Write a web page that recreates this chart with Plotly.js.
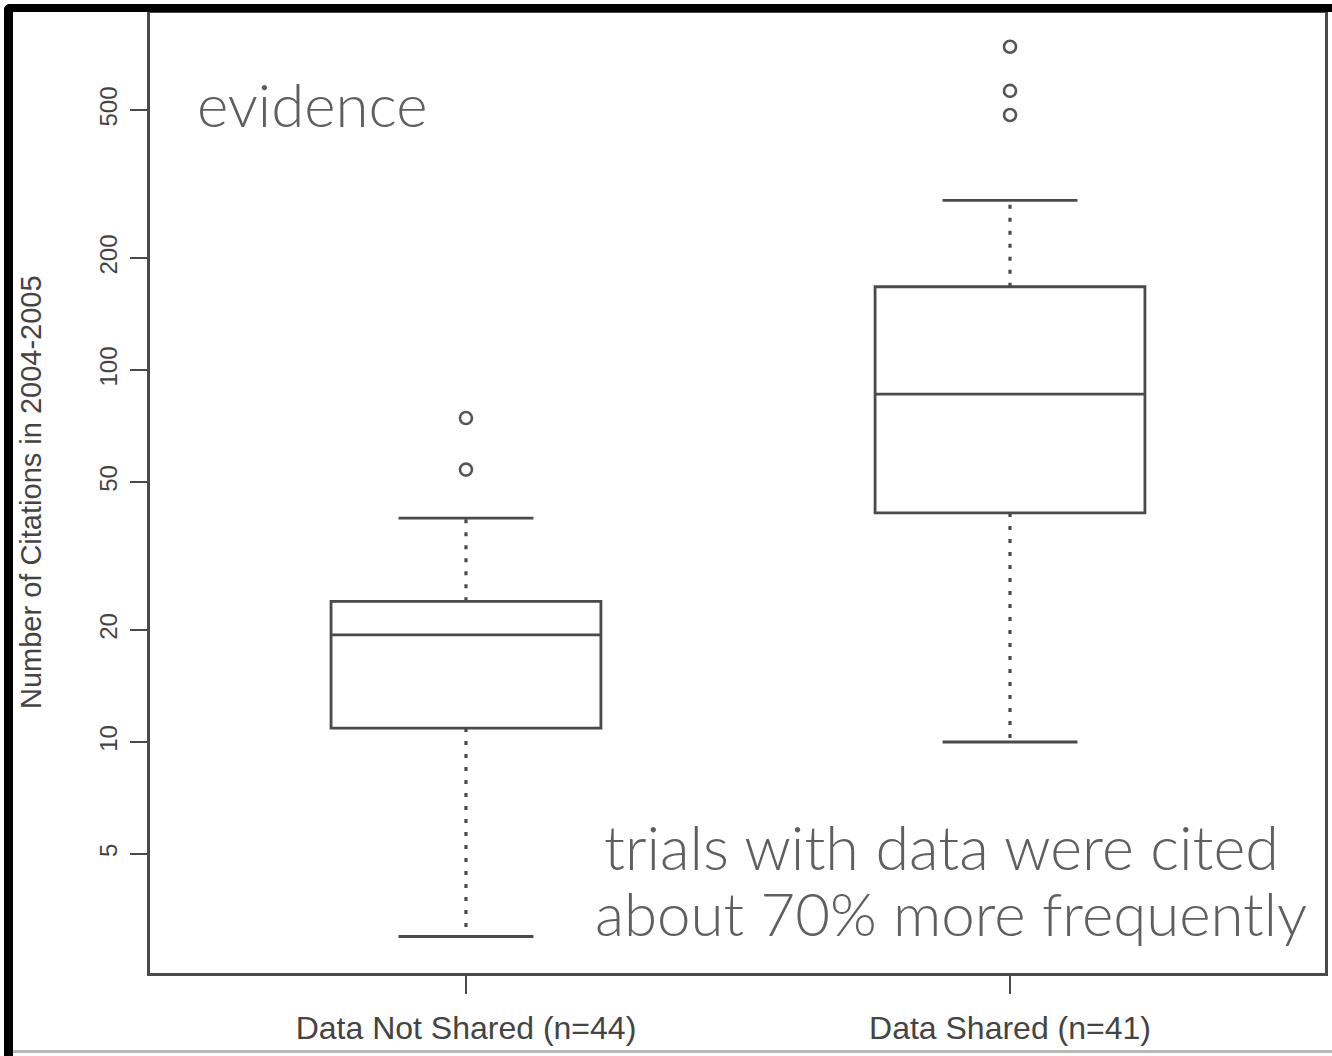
<!DOCTYPE html>
<html>
<head>
<meta charset="utf-8">
<script src="https://cdn.plot.ly/plotly-3.0.1.min.js"></script>
<style>
  html, body { margin: 0; padding: 0; background: #ffffff; width: 1332px; height: 1056px; overflow: hidden; }
  #chart { position: absolute; left: 0; top: 0; width: 1332px; height: 1056px; }
  #frame { position: absolute; left: 4px; top: 4px; width: 1340px; height: 1060px;
           border-left: 9px solid #000; border-top: 8px solid #000; border-top-left-radius: 6px;
           pointer-events: none; box-sizing: border-box; }
  #bottomline { position: absolute; left: 13px; top: 1050px; width: 1320px; height: 3px; background: #b9b9b9; pointer-events: none; }
</style>
</head>
<body>
<div id="chart"></div>
<div id="frame"></div>
<div id="bottomline"></div>
<script>
// ---- data ----
const categories   = ["Data Not Shared (n=44)", "Data Shared (n=41)"];
const q1Values     = [10.9, 41.3];
const medianValues = [19.4, 86.2];
const q3Values     = [23.9, 167.5];
const lowerWhisker = [3.0, 10.0];
const upperWhisker = [40.0, 286];
const outliersNotShared = [54.0, 74.3];
const outliersShared    = [485, 563, 740];
const yTickValues  = [5, 10, 20, 50, 100, 200, 500];
const yTickLabels  = ["5", "10", "20", "50", "100", "200", "500"];

// ---- styling / layout config ----
const ink = "#4a4a4a";
const boxWidth = 0.496;      // data units on the x axis
const capHalf = boxWidth / 4; // whisker caps are half the box width
const positions = categories.map((c, i) => i);
const outlierSets = [outliersNotShared, outliersShared];

const traces = [];

// boxes (q1, median, q3)
positions.forEach((p, i) => {
  traces.push({
    type: "box",
    x: [p],
    q1: [q1Values[i]],
    median: [medianValues[i]],
    q3: [q3Values[i]],
    lowerfence: [q1Values[i]],
    upperfence: [q3Values[i]],
    width: boxWidth,
    whiskerwidth: 0,
    boxpoints: false,
    fillcolor: "rgba(255,255,255,0)",
    line: { color: ink, width: 2.8 },
    name: categories[i],
    showlegend: false,
    hoverinfo: "skip"
  });
});

// dotted whiskers
const wx = [], wy = [];
positions.forEach((p, i) => {
  wx.push(p, p, null, p, p, null);
  wy.push(q3Values[i], upperWhisker[i], null, q1Values[i], lowerWhisker[i], null);
});
traces.push({
  type: "scatter", mode: "lines", x: wx, y: wy,
  line: { color: ink, width: 3.2, dash: "4px,9px" },
  showlegend: false, hoverinfo: "skip"
});

// whisker caps
const cx = [], cy = [];
positions.forEach((p, i) => {
  cx.push(p - capHalf, p + capHalf, null, p - capHalf, p + capHalf, null);
  cy.push(upperWhisker[i], upperWhisker[i], null, lowerWhisker[i], lowerWhisker[i], null);
});
traces.push({
  type: "scatter", mode: "lines", x: cx, y: cy,
  line: { color: ink, width: 2.8 },
  showlegend: false, hoverinfo: "skip"
});

// outliers
const ox = [], oy = [];
positions.forEach((p, i) => {
  outlierSets[i].forEach(v => { ox.push(p); oy.push(v); });
});
traces.push({
  type: "scatter", mode: "markers", x: ox, y: oy,
  marker: { symbol: "circle-open", size: 12, color: "#555555", line: { width: 2.6, color: "#555555" } },
  showlegend: false, hoverinfo: "skip"
});

const sans = "'Liberation Sans', Arial, Helvetica, sans-serif";
const slideFont = "Lato, 'Open Sans', 'Noto Sans', sans-serif";

const layout = {
  width: 1332,
  height: 1056,
  margin: { l: 150, r: 7, t: 13, b: 83, pad: 0 },
  paper_bgcolor: "#ffffff",
  plot_bgcolor: "#ffffff",
  showlegend: false,
  xaxis: {
    type: "linear",
    range: [-0.5808, 1.579],
    tickvals: positions,
    ticktext: categories,
    ticks: "outside",
    ticklen: 18,
    tickwidth: 2,
    tickcolor: ink,
    showline: true,
    mirror: true,
    linecolor: ink,
    linewidth: 2.8,
    showgrid: false,
    zeroline: false,
    ticklabelstandoff: 7,
    tickfont: { family: sans, size: 32, color: "#444444" }
  },
  yaxis: {
    type: "log",
    range: [0.379, 2.960],
    tickvals: yTickValues,
    ticktext: yTickLabels,
    tickangle: -90,
    ticks: "outside",
    ticklen: 17,
    tickwidth: 2,
    tickcolor: ink,
    showline: true,
    mirror: true,
    linecolor: ink,
    linewidth: 2.8,
    showgrid: false,
    zeroline: false,
    ticklabelstandoff: 4,
    tickfont: { family: sans, size: 24, color: "#444444" }
  },
  annotations: [
    {
      text: "Number of Citations in 2004-2005",
      xref: "paper", yref: "paper", x: -0.1013, y: 0.501,
      xanchor: "center", yanchor: "middle", textangle: -90, showarrow: false,
      font: { family: sans, size: 29, color: "#444444" }
    },
    {
      text: "evidence",
      xref: "paper", yref: "paper", x: 0.1387, y: 0.905,
      xanchor: "center", yanchor: "middle", showarrow: false,
      font: { family: slideFont, size: 60, weight: 300, color: "#5f5f5f" }
    },
    {
      text: "trials with data were cited",
      xref: "paper", yref: "paper", x: 0.674, y: 0.132,
      xanchor: "center", yanchor: "middle", showarrow: false,
      font: { family: slideFont, size: 61, weight: 300, color: "#5f5f5f" }
    },
    {
      text: "about 70% more frequently",
      xref: "paper", yref: "paper", x: 0.682, y: 0.0625,
      xanchor: "center", yanchor: "middle", showarrow: false,
      font: { family: slideFont, size: 60, weight: 300, color: "#5f5f5f" }
    }
  ]
};

Plotly.newPlot("chart", traces, layout, { staticPlot: true, displayModeBar: false });
</script>
</body>
</html>
